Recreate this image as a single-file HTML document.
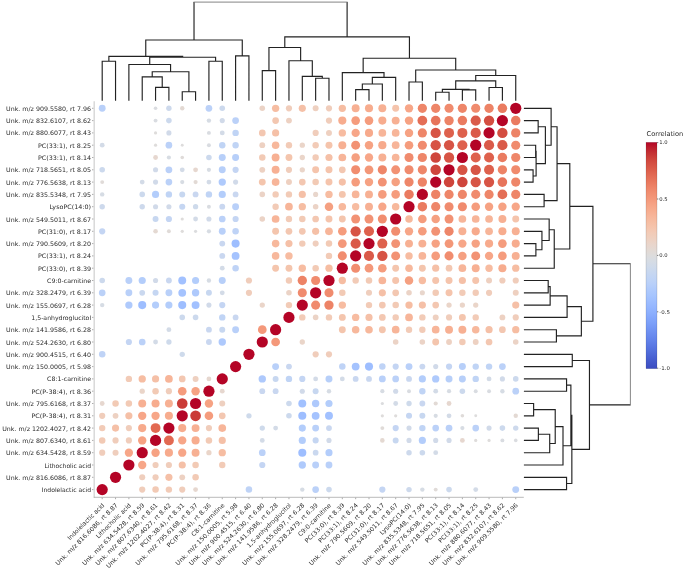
<!DOCTYPE html>
<html><head><meta charset="utf-8"><title>Correlation clustergram</title>
<style>html,body{margin:0;padding:0;background:#fff}svg{display:block}text{font-family:"DejaVu Sans","Liberation Sans",sans-serif;fill:#2a2a2a}</style></head><body>
<svg width="685" height="570" viewBox="0 0 685 570">
<rect width="685" height="570" fill="#fff"/>
<path stroke="#d6d6d6" stroke-width="1.4" fill="none" d="M94.2 101.2V497.7"/><path stroke="#a8a8a8" stroke-width="0.8" fill="none" d="M93.8 497.3H523.8"/>
<path stroke="#888" stroke-width="0.7" fill="none" d="M92.0 108.30H93.4M102.20 497.7V499.2M92.0 120.60H93.4M115.54 497.7V499.2M92.0 132.90H93.4M128.88 497.7V499.2M92.0 145.20H93.4M142.22 497.7V499.2M92.0 157.50H93.4M155.56 497.7V499.2M92.0 169.80H93.4M168.90 497.7V499.2M92.0 182.10H93.4M182.24 497.7V499.2M92.0 194.40H93.4M195.58 497.7V499.2M92.0 206.70H93.4M208.92 497.7V499.2M92.0 219.00H93.4M222.26 497.7V499.2M92.0 231.30H93.4M235.60 497.7V499.2M92.0 243.60H93.4M248.94 497.7V499.2M92.0 255.90H93.4M262.28 497.7V499.2M92.0 268.20H93.4M275.62 497.7V499.2M92.0 280.50H93.4M288.96 497.7V499.2M92.0 292.80H93.4M302.30 497.7V499.2M92.0 305.10H93.4M315.64 497.7V499.2M92.0 317.40H93.4M328.98 497.7V499.2M92.0 329.70H93.4M342.32 497.7V499.2M92.0 342.00H93.4M355.66 497.7V499.2M92.0 354.30H93.4M369.00 497.7V499.2M92.0 366.60H93.4M382.34 497.7V499.2M92.0 378.90H93.4M395.68 497.7V499.2M92.0 391.20H93.4M409.02 497.7V499.2M92.0 403.50H93.4M422.36 497.7V499.2M92.0 415.80H93.4M435.70 497.7V499.2M92.0 428.10H93.4M449.04 497.7V499.2M92.0 440.40H93.4M462.38 497.7V499.2M92.0 452.70H93.4M475.72 497.7V499.2M92.0 465.00H93.4M489.06 497.7V499.2M92.0 477.30H93.4M502.40 497.7V499.2M92.0 489.60H93.4M515.74 497.7V499.2"/>
<g>
<circle cx="102.20" cy="108.30" r="3.44" fill="#b9d0f9"/>
<circle cx="155.56" cy="108.30" r="1.81" fill="#dadce0"/>
<circle cx="168.90" cy="108.30" r="2.72" fill="#cdd9ec"/>
<circle cx="182.24" cy="108.30" r="2.21" fill="#e3d9d3"/>
<circle cx="208.92" cy="108.30" r="3.35" fill="#bbd1f8"/>
<circle cx="222.26" cy="108.30" r="2.79" fill="#ccd9ed"/>
<circle cx="262.28" cy="108.30" r="2.79" fill="#ebd3c6"/>
<circle cx="275.62" cy="108.30" r="3.66" fill="#f6bda2"/>
<circle cx="288.96" cy="108.30" r="3.09" fill="#f0cdbb"/>
<circle cx="302.30" cy="108.30" r="3.58" fill="#f5c0a7"/>
<circle cx="315.64" cy="108.30" r="2.98" fill="#eed0c0"/>
<circle cx="328.98" cy="108.30" r="3.09" fill="#f0cdbb"/>
<circle cx="342.32" cy="108.30" r="3.66" fill="#f6bda2"/>
<circle cx="355.66" cy="108.30" r="3.97" fill="#f7b093"/>
<circle cx="369.00" cy="108.30" r="4.04" fill="#f7ac8e"/>
<circle cx="382.34" cy="108.30" r="3.97" fill="#f7b093"/>
<circle cx="395.68" cy="108.30" r="3.49" fill="#f5c4ac"/>
<circle cx="409.02" cy="108.30" r="4.15" fill="#f7a688"/>
<circle cx="422.36" cy="108.30" r="4.61" fill="#ee8669"/>
<circle cx="435.70" cy="108.30" r="4.61" fill="#ee8669"/>
<circle cx="449.04" cy="108.30" r="4.55" fill="#f08b6e"/>
<circle cx="462.38" cy="108.30" r="4.61" fill="#ee8669"/>
<circle cx="475.72" cy="108.30" r="4.55" fill="#f08b6e"/>
<circle cx="489.06" cy="108.30" r="4.67" fill="#ed8366"/>
<circle cx="502.40" cy="108.30" r="4.75" fill="#ea7b60"/>
<circle cx="515.74" cy="108.30" r="5.60" fill="#b40426"/>
<circle cx="155.56" cy="120.60" r="1.97" fill="#d9dce1"/>
<circle cx="168.90" cy="120.60" r="2.79" fill="#ccd9ed"/>
<circle cx="208.92" cy="120.60" r="2.21" fill="#d6dce4"/>
<circle cx="222.26" cy="120.60" r="2.57" fill="#d1dae9"/>
<circle cx="235.60" cy="120.60" r="3.35" fill="#bbd1f8"/>
<circle cx="275.62" cy="120.60" r="3.35" fill="#f3c7b1"/>
<circle cx="288.96" cy="120.60" r="2.92" fill="#edd1c2"/>
<circle cx="328.98" cy="120.60" r="3.09" fill="#f0cdbb"/>
<circle cx="342.32" cy="120.60" r="4.04" fill="#f7ac8e"/>
<circle cx="355.66" cy="120.60" r="4.31" fill="#f59c7d"/>
<circle cx="369.00" cy="120.60" r="4.31" fill="#f59c7d"/>
<circle cx="382.34" cy="120.60" r="4.04" fill="#f7ac8e"/>
<circle cx="395.68" cy="120.60" r="3.97" fill="#f7b093"/>
<circle cx="409.02" cy="120.60" r="4.21" fill="#f6a283"/>
<circle cx="422.36" cy="120.60" r="4.89" fill="#e46e56"/>
<circle cx="435.70" cy="120.60" r="4.83" fill="#e7745b"/>
<circle cx="449.04" cy="120.60" r="4.67" fill="#ed8366"/>
<circle cx="462.38" cy="120.60" r="4.75" fill="#ea7b60"/>
<circle cx="475.72" cy="120.60" r="5.09" fill="#da5a49"/>
<circle cx="489.06" cy="120.60" r="5.19" fill="#d44e41"/>
<circle cx="502.40" cy="120.60" r="5.60" fill="#b40426"/>
<circle cx="515.74" cy="120.60" r="4.75" fill="#ea7b60"/>
<circle cx="155.56" cy="132.90" r="1.60" fill="#dedcdb"/>
<circle cx="168.90" cy="132.90" r="2.57" fill="#d1dae9"/>
<circle cx="208.92" cy="132.90" r="1.97" fill="#d9dce1"/>
<circle cx="222.26" cy="132.90" r="2.41" fill="#d3dbe7"/>
<circle cx="235.60" cy="132.90" r="3.20" fill="#c0d4f5"/>
<circle cx="262.28" cy="132.90" r="3.35" fill="#f3c7b1"/>
<circle cx="275.62" cy="132.90" r="3.58" fill="#f5c0a7"/>
<circle cx="315.64" cy="132.90" r="3.09" fill="#f0cdbb"/>
<circle cx="328.98" cy="132.90" r="2.98" fill="#eed0c0"/>
<circle cx="342.32" cy="132.90" r="3.70" fill="#f7bca1"/>
<circle cx="355.66" cy="132.90" r="4.15" fill="#f7a688"/>
<circle cx="369.00" cy="132.90" r="4.08" fill="#f7aa8c"/>
<circle cx="382.34" cy="132.90" r="3.86" fill="#f7b599"/>
<circle cx="395.68" cy="132.90" r="3.86" fill="#f7b599"/>
<circle cx="409.02" cy="132.90" r="4.21" fill="#f6a283"/>
<circle cx="422.36" cy="132.90" r="4.61" fill="#ee8669"/>
<circle cx="435.70" cy="132.90" r="5.14" fill="#d75445"/>
<circle cx="449.04" cy="132.90" r="5.02" fill="#de614d"/>
<circle cx="462.38" cy="132.90" r="5.02" fill="#de614d"/>
<circle cx="475.72" cy="132.90" r="5.09" fill="#da5a49"/>
<circle cx="489.06" cy="132.90" r="5.60" fill="#b40426"/>
<circle cx="502.40" cy="132.90" r="5.19" fill="#d44e41"/>
<circle cx="515.74" cy="132.90" r="4.67" fill="#ed8366"/>
<circle cx="102.20" cy="145.20" r="2.41" fill="#d3dbe7"/>
<circle cx="155.56" cy="145.20" r="1.60" fill="#dedcdb"/>
<circle cx="168.90" cy="145.20" r="3.35" fill="#bbd1f8"/>
<circle cx="182.24" cy="145.20" r="1.45" fill="#dddcdc"/>
<circle cx="208.92" cy="145.20" r="1.97" fill="#d9dce1"/>
<circle cx="222.26" cy="145.20" r="3.20" fill="#c0d4f5"/>
<circle cx="235.60" cy="145.20" r="3.20" fill="#c0d4f5"/>
<circle cx="262.28" cy="145.20" r="2.92" fill="#edd1c2"/>
<circle cx="275.62" cy="145.20" r="3.78" fill="#f7b89c"/>
<circle cx="288.96" cy="145.20" r="3.20" fill="#f2cbb7"/>
<circle cx="302.30" cy="145.20" r="2.65" fill="#ead5c9"/>
<circle cx="315.64" cy="145.20" r="3.20" fill="#f2cbb7"/>
<circle cx="328.98" cy="145.20" r="3.49" fill="#f5c4ac"/>
<circle cx="342.32" cy="145.20" r="3.97" fill="#f7b093"/>
<circle cx="355.66" cy="145.20" r="4.47" fill="#f29274"/>
<circle cx="369.00" cy="145.20" r="4.21" fill="#f6a283"/>
<circle cx="382.34" cy="145.20" r="4.08" fill="#f7aa8c"/>
<circle cx="395.68" cy="145.20" r="3.86" fill="#f7b599"/>
<circle cx="409.02" cy="145.20" r="4.31" fill="#f59c7d"/>
<circle cx="422.36" cy="145.20" r="4.55" fill="#f08b6e"/>
<circle cx="435.70" cy="145.20" r="5.14" fill="#d75445"/>
<circle cx="449.04" cy="145.20" r="5.14" fill="#d75445"/>
<circle cx="462.38" cy="145.20" r="5.02" fill="#de614d"/>
<circle cx="475.72" cy="145.20" r="5.60" fill="#b40426"/>
<circle cx="489.06" cy="145.20" r="5.09" fill="#da5a49"/>
<circle cx="502.40" cy="145.20" r="5.09" fill="#da5a49"/>
<circle cx="515.74" cy="145.20" r="4.55" fill="#f08b6e"/>
<circle cx="155.56" cy="157.50" r="2.41" fill="#e6d7cf"/>
<circle cx="168.90" cy="157.50" r="2.10" fill="#d7dce3"/>
<circle cx="182.24" cy="157.50" r="1.81" fill="#dfdbd9"/>
<circle cx="208.92" cy="157.50" r="2.79" fill="#ccd9ed"/>
<circle cx="222.26" cy="157.50" r="3.49" fill="#b7cff9"/>
<circle cx="235.60" cy="157.50" r="3.49" fill="#b7cff9"/>
<circle cx="262.28" cy="157.50" r="3.25" fill="#f2cab5"/>
<circle cx="275.62" cy="157.50" r="3.97" fill="#f7b093"/>
<circle cx="288.96" cy="157.50" r="3.44" fill="#f4c5ad"/>
<circle cx="302.30" cy="157.50" r="2.65" fill="#ead5c9"/>
<circle cx="315.64" cy="157.50" r="3.20" fill="#f2cbb7"/>
<circle cx="328.98" cy="157.50" r="3.58" fill="#f5c0a7"/>
<circle cx="342.32" cy="157.50" r="3.86" fill="#f7b599"/>
<circle cx="355.66" cy="157.50" r="4.25" fill="#f5a081"/>
<circle cx="369.00" cy="157.50" r="4.15" fill="#f7a688"/>
<circle cx="382.34" cy="157.50" r="3.97" fill="#f7b093"/>
<circle cx="395.68" cy="157.50" r="3.86" fill="#f7b599"/>
<circle cx="409.02" cy="157.50" r="4.55" fill="#f08b6e"/>
<circle cx="422.36" cy="157.50" r="4.61" fill="#ee8669"/>
<circle cx="435.70" cy="157.50" r="5.26" fill="#cf453c"/>
<circle cx="449.04" cy="157.50" r="5.14" fill="#d75445"/>
<circle cx="462.38" cy="157.50" r="5.60" fill="#b40426"/>
<circle cx="475.72" cy="157.50" r="5.02" fill="#de614d"/>
<circle cx="489.06" cy="157.50" r="5.02" fill="#de614d"/>
<circle cx="502.40" cy="157.50" r="4.75" fill="#ea7b60"/>
<circle cx="515.74" cy="157.50" r="4.61" fill="#ee8669"/>
<circle cx="102.20" cy="169.80" r="2.79" fill="#ccd9ed"/>
<circle cx="155.56" cy="169.80" r="2.57" fill="#d1dae9"/>
<circle cx="168.90" cy="169.80" r="3.40" fill="#bad0f8"/>
<circle cx="182.24" cy="169.80" r="2.41" fill="#d3dbe7"/>
<circle cx="195.58" cy="169.80" r="2.41" fill="#e6d7cf"/>
<circle cx="208.92" cy="169.80" r="2.10" fill="#d7dce3"/>
<circle cx="222.26" cy="169.80" r="3.49" fill="#b7cff9"/>
<circle cx="235.60" cy="169.80" r="3.09" fill="#c4d5f3"/>
<circle cx="262.28" cy="169.80" r="2.92" fill="#edd1c2"/>
<circle cx="275.62" cy="169.80" r="3.97" fill="#f7b093"/>
<circle cx="288.96" cy="169.80" r="3.09" fill="#f0cdbb"/>
<circle cx="302.30" cy="169.80" r="2.65" fill="#ead5c9"/>
<circle cx="315.64" cy="169.80" r="3.49" fill="#f5c4ac"/>
<circle cx="328.98" cy="169.80" r="3.49" fill="#f5c4ac"/>
<circle cx="342.32" cy="169.80" r="3.35" fill="#f3c7b1"/>
<circle cx="355.66" cy="169.80" r="4.53" fill="#f18d6f"/>
<circle cx="369.00" cy="169.80" r="4.40" fill="#f39778"/>
<circle cx="382.34" cy="169.80" r="4.61" fill="#ee8669"/>
<circle cx="395.68" cy="169.80" r="4.47" fill="#f29274"/>
<circle cx="409.02" cy="169.80" r="4.55" fill="#f08b6e"/>
<circle cx="422.36" cy="169.80" r="4.61" fill="#ee8669"/>
<circle cx="435.70" cy="169.80" r="5.26" fill="#cf453c"/>
<circle cx="449.04" cy="169.80" r="5.60" fill="#b40426"/>
<circle cx="462.38" cy="169.80" r="5.14" fill="#d75445"/>
<circle cx="475.72" cy="169.80" r="5.14" fill="#d75445"/>
<circle cx="489.06" cy="169.80" r="5.02" fill="#de614d"/>
<circle cx="502.40" cy="169.80" r="4.67" fill="#ed8366"/>
<circle cx="515.74" cy="169.80" r="4.55" fill="#f08b6e"/>
<circle cx="102.20" cy="182.10" r="1.97" fill="#e0dbd8"/>
<circle cx="142.22" cy="182.10" r="2.41" fill="#d3dbe7"/>
<circle cx="155.56" cy="182.10" r="2.57" fill="#d1dae9"/>
<circle cx="168.90" cy="182.10" r="3.35" fill="#bbd1f8"/>
<circle cx="182.24" cy="182.10" r="2.10" fill="#d7dce3"/>
<circle cx="195.58" cy="182.10" r="2.10" fill="#e2dad5"/>
<circle cx="208.92" cy="182.10" r="2.41" fill="#d3dbe7"/>
<circle cx="222.26" cy="182.10" r="3.66" fill="#afcafc"/>
<circle cx="235.60" cy="182.10" r="2.57" fill="#d1dae9"/>
<circle cx="262.28" cy="182.10" r="3.44" fill="#f4c5ad"/>
<circle cx="275.62" cy="182.10" r="3.86" fill="#f7b599"/>
<circle cx="288.96" cy="182.10" r="2.98" fill="#eed0c0"/>
<circle cx="302.30" cy="182.10" r="3.35" fill="#f3c7b1"/>
<circle cx="315.64" cy="182.10" r="3.25" fill="#f2cab5"/>
<circle cx="328.98" cy="182.10" r="3.49" fill="#f5c4ac"/>
<circle cx="342.32" cy="182.10" r="3.58" fill="#f5c0a7"/>
<circle cx="355.66" cy="182.10" r="4.31" fill="#f59c7d"/>
<circle cx="369.00" cy="182.10" r="4.21" fill="#f6a283"/>
<circle cx="382.34" cy="182.10" r="4.47" fill="#f29274"/>
<circle cx="395.68" cy="182.10" r="4.25" fill="#f5a081"/>
<circle cx="409.02" cy="182.10" r="4.61" fill="#ee8669"/>
<circle cx="422.36" cy="182.10" r="4.67" fill="#ed8366"/>
<circle cx="435.70" cy="182.10" r="5.60" fill="#b40426"/>
<circle cx="449.04" cy="182.10" r="5.26" fill="#cf453c"/>
<circle cx="462.38" cy="182.10" r="5.26" fill="#cf453c"/>
<circle cx="475.72" cy="182.10" r="5.14" fill="#d75445"/>
<circle cx="489.06" cy="182.10" r="5.14" fill="#d75445"/>
<circle cx="502.40" cy="182.10" r="4.83" fill="#e7745b"/>
<circle cx="515.74" cy="182.10" r="4.61" fill="#ee8669"/>
<circle cx="102.20" cy="194.40" r="2.21" fill="#d6dce4"/>
<circle cx="142.22" cy="194.40" r="2.79" fill="#ccd9ed"/>
<circle cx="155.56" cy="194.40" r="3.58" fill="#b3cdfb"/>
<circle cx="168.90" cy="194.40" r="3.20" fill="#c0d4f5"/>
<circle cx="182.24" cy="194.40" r="2.98" fill="#c7d7f0"/>
<circle cx="195.58" cy="194.40" r="2.92" fill="#c9d7f0"/>
<circle cx="208.92" cy="194.40" r="3.20" fill="#c0d4f5"/>
<circle cx="222.26" cy="194.40" r="3.58" fill="#b3cdfb"/>
<circle cx="235.60" cy="194.40" r="2.92" fill="#c9d7f0"/>
<circle cx="262.28" cy="194.40" r="2.79" fill="#ebd3c6"/>
<circle cx="275.62" cy="194.40" r="3.20" fill="#f2cbb7"/>
<circle cx="288.96" cy="194.40" r="3.20" fill="#f2cbb7"/>
<circle cx="302.30" cy="194.40" r="3.58" fill="#f5c0a7"/>
<circle cx="315.64" cy="194.40" r="2.57" fill="#e8d6cc"/>
<circle cx="328.98" cy="194.40" r="3.70" fill="#f7bca1"/>
<circle cx="342.32" cy="194.40" r="3.44" fill="#f4c5ad"/>
<circle cx="355.66" cy="194.40" r="3.86" fill="#f7b599"/>
<circle cx="369.00" cy="194.40" r="3.97" fill="#f7b093"/>
<circle cx="382.34" cy="194.40" r="4.31" fill="#f59c7d"/>
<circle cx="395.68" cy="194.40" r="4.31" fill="#f59c7d"/>
<circle cx="409.02" cy="194.40" r="4.75" fill="#ea7b60"/>
<circle cx="422.36" cy="194.40" r="5.60" fill="#b40426"/>
<circle cx="435.70" cy="194.40" r="4.67" fill="#ed8366"/>
<circle cx="449.04" cy="194.40" r="4.61" fill="#ee8669"/>
<circle cx="462.38" cy="194.40" r="4.61" fill="#ee8669"/>
<circle cx="475.72" cy="194.40" r="4.55" fill="#f08b6e"/>
<circle cx="489.06" cy="194.40" r="4.61" fill="#ee8669"/>
<circle cx="502.40" cy="194.40" r="4.89" fill="#e46e56"/>
<circle cx="515.74" cy="194.40" r="4.61" fill="#ee8669"/>
<circle cx="102.20" cy="206.70" r="2.72" fill="#cdd9ec"/>
<circle cx="142.22" cy="206.70" r="2.72" fill="#cdd9ec"/>
<circle cx="155.56" cy="206.70" r="2.57" fill="#d1dae9"/>
<circle cx="168.90" cy="206.70" r="2.57" fill="#d1dae9"/>
<circle cx="182.24" cy="206.70" r="3.04" fill="#c5d6f2"/>
<circle cx="195.58" cy="206.70" r="2.65" fill="#cedaeb"/>
<circle cx="208.92" cy="206.70" r="1.97" fill="#d9dce1"/>
<circle cx="222.26" cy="206.70" r="2.92" fill="#c9d7f0"/>
<circle cx="235.60" cy="206.70" r="3.44" fill="#b9d0f9"/>
<circle cx="275.62" cy="206.70" r="3.20" fill="#f2cbb7"/>
<circle cx="288.96" cy="206.70" r="3.86" fill="#f7b599"/>
<circle cx="302.30" cy="206.70" r="3.66" fill="#f6bda2"/>
<circle cx="315.64" cy="206.70" r="2.79" fill="#ebd3c6"/>
<circle cx="328.98" cy="206.70" r="4.25" fill="#f5a081"/>
<circle cx="342.32" cy="206.70" r="3.78" fill="#f7b89c"/>
<circle cx="355.66" cy="206.70" r="3.70" fill="#f7bca1"/>
<circle cx="369.00" cy="206.70" r="3.97" fill="#f7b093"/>
<circle cx="382.34" cy="206.70" r="4.15" fill="#f7a688"/>
<circle cx="395.68" cy="206.70" r="3.78" fill="#f7b89c"/>
<circle cx="409.02" cy="206.70" r="5.60" fill="#b40426"/>
<circle cx="422.36" cy="206.70" r="4.75" fill="#ea7b60"/>
<circle cx="435.70" cy="206.70" r="4.61" fill="#ee8669"/>
<circle cx="449.04" cy="206.70" r="4.55" fill="#f08b6e"/>
<circle cx="462.38" cy="206.70" r="4.55" fill="#f08b6e"/>
<circle cx="475.72" cy="206.70" r="4.31" fill="#f59c7d"/>
<circle cx="489.06" cy="206.70" r="4.21" fill="#f6a283"/>
<circle cx="502.40" cy="206.70" r="4.21" fill="#f6a283"/>
<circle cx="515.74" cy="206.70" r="4.15" fill="#f7a688"/>
<circle cx="155.56" cy="219.00" r="2.98" fill="#c7d7f0"/>
<circle cx="168.90" cy="219.00" r="3.09" fill="#c4d5f3"/>
<circle cx="182.24" cy="219.00" r="1.60" fill="#dedcdb"/>
<circle cx="195.58" cy="219.00" r="2.41" fill="#d3dbe7"/>
<circle cx="208.92" cy="219.00" r="2.57" fill="#d1dae9"/>
<circle cx="222.26" cy="219.00" r="3.35" fill="#bbd1f8"/>
<circle cx="235.60" cy="219.00" r="3.09" fill="#c4d5f3"/>
<circle cx="262.28" cy="219.00" r="2.79" fill="#ebd3c6"/>
<circle cx="275.62" cy="219.00" r="3.86" fill="#f7b599"/>
<circle cx="288.96" cy="219.00" r="3.20" fill="#f2cbb7"/>
<circle cx="302.30" cy="219.00" r="3.25" fill="#f2cab5"/>
<circle cx="315.64" cy="219.00" r="3.35" fill="#f3c7b1"/>
<circle cx="328.98" cy="219.00" r="3.49" fill="#f5c4ac"/>
<circle cx="342.32" cy="219.00" r="3.44" fill="#f4c5ad"/>
<circle cx="355.66" cy="219.00" r="4.47" fill="#f29274"/>
<circle cx="369.00" cy="219.00" r="4.47" fill="#f29274"/>
<circle cx="382.34" cy="219.00" r="4.53" fill="#f18d6f"/>
<circle cx="395.68" cy="219.00" r="5.60" fill="#b40426"/>
<circle cx="409.02" cy="219.00" r="3.78" fill="#f7b89c"/>
<circle cx="422.36" cy="219.00" r="4.31" fill="#f59c7d"/>
<circle cx="435.70" cy="219.00" r="4.25" fill="#f5a081"/>
<circle cx="449.04" cy="219.00" r="4.47" fill="#f29274"/>
<circle cx="462.38" cy="219.00" r="3.86" fill="#f7b599"/>
<circle cx="475.72" cy="219.00" r="3.86" fill="#f7b599"/>
<circle cx="489.06" cy="219.00" r="3.86" fill="#f7b599"/>
<circle cx="502.40" cy="219.00" r="3.97" fill="#f7b093"/>
<circle cx="515.74" cy="219.00" r="3.49" fill="#f5c4ac"/>
<circle cx="102.20" cy="231.30" r="3.09" fill="#c4d5f3"/>
<circle cx="155.56" cy="231.30" r="2.31" fill="#e4d9d2"/>
<circle cx="168.90" cy="231.30" r="1.97" fill="#e0dbd8"/>
<circle cx="182.24" cy="231.30" r="1.60" fill="#dedcdb"/>
<circle cx="195.58" cy="231.30" r="1.60" fill="#dbdcde"/>
<circle cx="208.92" cy="231.30" r="2.10" fill="#d7dce3"/>
<circle cx="222.26" cy="231.30" r="3.44" fill="#b9d0f9"/>
<circle cx="235.60" cy="231.30" r="3.25" fill="#bfd3f6"/>
<circle cx="275.62" cy="231.30" r="3.44" fill="#f4c5ad"/>
<circle cx="288.96" cy="231.30" r="3.35" fill="#f3c7b1"/>
<circle cx="302.30" cy="231.30" r="3.35" fill="#f3c7b1"/>
<circle cx="315.64" cy="231.30" r="3.58" fill="#f5c0a7"/>
<circle cx="328.98" cy="231.30" r="3.86" fill="#f7b599"/>
<circle cx="342.32" cy="231.30" r="4.31" fill="#f59c7d"/>
<circle cx="355.66" cy="231.30" r="5.14" fill="#d75445"/>
<circle cx="369.00" cy="231.30" r="5.02" fill="#de614d"/>
<circle cx="382.34" cy="231.30" r="5.60" fill="#b40426"/>
<circle cx="395.68" cy="231.30" r="4.53" fill="#f18d6f"/>
<circle cx="409.02" cy="231.30" r="4.15" fill="#f7a688"/>
<circle cx="422.36" cy="231.30" r="4.31" fill="#f59c7d"/>
<circle cx="435.70" cy="231.30" r="4.47" fill="#f29274"/>
<circle cx="449.04" cy="231.30" r="4.61" fill="#ee8669"/>
<circle cx="462.38" cy="231.30" r="3.97" fill="#f7b093"/>
<circle cx="475.72" cy="231.30" r="4.08" fill="#f7aa8c"/>
<circle cx="489.06" cy="231.30" r="3.86" fill="#f7b599"/>
<circle cx="502.40" cy="231.30" r="4.04" fill="#f7ac8e"/>
<circle cx="515.74" cy="231.30" r="3.97" fill="#f7b093"/>
<circle cx="222.26" cy="243.60" r="2.92" fill="#c9d7f0"/>
<circle cx="235.60" cy="243.60" r="4.04" fill="#9ebeff"/>
<circle cx="275.62" cy="243.60" r="3.78" fill="#f7b89c"/>
<circle cx="288.96" cy="243.60" r="3.58" fill="#f5c0a7"/>
<circle cx="302.30" cy="243.60" r="3.20" fill="#f2cbb7"/>
<circle cx="315.64" cy="243.60" r="3.04" fill="#efcebd"/>
<circle cx="328.98" cy="243.60" r="3.25" fill="#f2cab5"/>
<circle cx="342.32" cy="243.60" r="4.37" fill="#f4987a"/>
<circle cx="355.66" cy="243.60" r="5.09" fill="#da5a49"/>
<circle cx="369.00" cy="243.60" r="5.60" fill="#b40426"/>
<circle cx="382.34" cy="243.60" r="5.02" fill="#de614d"/>
<circle cx="395.68" cy="243.60" r="4.47" fill="#f29274"/>
<circle cx="409.02" cy="243.60" r="3.97" fill="#f7b093"/>
<circle cx="422.36" cy="243.60" r="3.97" fill="#f7b093"/>
<circle cx="435.70" cy="243.60" r="4.21" fill="#f6a283"/>
<circle cx="449.04" cy="243.60" r="4.40" fill="#f39778"/>
<circle cx="462.38" cy="243.60" r="4.15" fill="#f7a688"/>
<circle cx="475.72" cy="243.60" r="4.21" fill="#f6a283"/>
<circle cx="489.06" cy="243.60" r="4.08" fill="#f7aa8c"/>
<circle cx="502.40" cy="243.60" r="4.31" fill="#f59c7d"/>
<circle cx="515.74" cy="243.60" r="4.04" fill="#f7ac8e"/>
<circle cx="222.26" cy="255.90" r="2.92" fill="#c9d7f0"/>
<circle cx="235.60" cy="255.90" r="3.90" fill="#a5c3fe"/>
<circle cx="275.62" cy="255.90" r="3.78" fill="#f7b89c"/>
<circle cx="288.96" cy="255.90" r="3.70" fill="#f7bca1"/>
<circle cx="328.98" cy="255.90" r="3.20" fill="#f2cbb7"/>
<circle cx="342.32" cy="255.90" r="4.53" fill="#f18d6f"/>
<circle cx="355.66" cy="255.90" r="5.60" fill="#b40426"/>
<circle cx="369.00" cy="255.90" r="5.09" fill="#da5a49"/>
<circle cx="382.34" cy="255.90" r="5.14" fill="#d75445"/>
<circle cx="395.68" cy="255.90" r="4.47" fill="#f29274"/>
<circle cx="409.02" cy="255.90" r="3.70" fill="#f7bca1"/>
<circle cx="422.36" cy="255.90" r="3.86" fill="#f7b599"/>
<circle cx="435.70" cy="255.90" r="4.31" fill="#f59c7d"/>
<circle cx="449.04" cy="255.90" r="4.53" fill="#f18d6f"/>
<circle cx="462.38" cy="255.90" r="4.25" fill="#f5a081"/>
<circle cx="475.72" cy="255.90" r="4.47" fill="#f29274"/>
<circle cx="489.06" cy="255.90" r="4.15" fill="#f7a688"/>
<circle cx="502.40" cy="255.90" r="4.31" fill="#f59c7d"/>
<circle cx="515.74" cy="255.90" r="3.97" fill="#f7b093"/>
<circle cx="222.26" cy="268.20" r="2.41" fill="#d3dbe7"/>
<circle cx="235.60" cy="268.20" r="3.25" fill="#bfd3f6"/>
<circle cx="275.62" cy="268.20" r="3.44" fill="#f4c5ad"/>
<circle cx="288.96" cy="268.20" r="3.44" fill="#f4c5ad"/>
<circle cx="302.30" cy="268.20" r="3.70" fill="#f7bca1"/>
<circle cx="315.64" cy="268.20" r="3.25" fill="#f2cab5"/>
<circle cx="328.98" cy="268.20" r="3.66" fill="#f6bda2"/>
<circle cx="342.32" cy="268.20" r="5.60" fill="#b40426"/>
<circle cx="355.66" cy="268.20" r="4.53" fill="#f18d6f"/>
<circle cx="369.00" cy="268.20" r="4.37" fill="#f4987a"/>
<circle cx="382.34" cy="268.20" r="4.31" fill="#f59c7d"/>
<circle cx="395.68" cy="268.20" r="3.44" fill="#f4c5ad"/>
<circle cx="409.02" cy="268.20" r="3.78" fill="#f7b89c"/>
<circle cx="422.36" cy="268.20" r="3.44" fill="#f4c5ad"/>
<circle cx="435.70" cy="268.20" r="3.58" fill="#f5c0a7"/>
<circle cx="449.04" cy="268.20" r="3.35" fill="#f3c7b1"/>
<circle cx="462.38" cy="268.20" r="3.86" fill="#f7b599"/>
<circle cx="475.72" cy="268.20" r="3.97" fill="#f7b093"/>
<circle cx="489.06" cy="268.20" r="3.70" fill="#f7bca1"/>
<circle cx="502.40" cy="268.20" r="4.04" fill="#f7ac8e"/>
<circle cx="515.74" cy="268.20" r="3.66" fill="#f6bda2"/>
<circle cx="102.20" cy="280.50" r="2.79" fill="#ccd9ed"/>
<circle cx="128.88" cy="280.50" r="3.44" fill="#b9d0f9"/>
<circle cx="142.22" cy="280.50" r="3.58" fill="#b3cdfb"/>
<circle cx="155.56" cy="280.50" r="2.57" fill="#d1dae9"/>
<circle cx="168.90" cy="280.50" r="2.92" fill="#c9d7f0"/>
<circle cx="182.24" cy="280.50" r="3.97" fill="#a2c1ff"/>
<circle cx="195.58" cy="280.50" r="3.58" fill="#b3cdfb"/>
<circle cx="208.92" cy="280.50" r="2.21" fill="#d6dce4"/>
<circle cx="222.26" cy="280.50" r="3.49" fill="#b7cff9"/>
<circle cx="248.94" cy="280.50" r="3.09" fill="#f0cdbb"/>
<circle cx="288.96" cy="280.50" r="3.20" fill="#f2cbb7"/>
<circle cx="302.30" cy="280.50" r="4.67" fill="#ed8366"/>
<circle cx="315.64" cy="280.50" r="4.55" fill="#f08b6e"/>
<circle cx="328.98" cy="280.50" r="5.60" fill="#b40426"/>
<circle cx="342.32" cy="280.50" r="3.66" fill="#f6bda2"/>
<circle cx="355.66" cy="280.50" r="3.20" fill="#f2cbb7"/>
<circle cx="369.00" cy="280.50" r="3.25" fill="#f2cab5"/>
<circle cx="382.34" cy="280.50" r="3.86" fill="#f7b599"/>
<circle cx="395.68" cy="280.50" r="3.49" fill="#f5c4ac"/>
<circle cx="409.02" cy="280.50" r="4.25" fill="#f5a081"/>
<circle cx="422.36" cy="280.50" r="3.70" fill="#f7bca1"/>
<circle cx="435.70" cy="280.50" r="3.49" fill="#f5c4ac"/>
<circle cx="449.04" cy="280.50" r="3.49" fill="#f5c4ac"/>
<circle cx="462.38" cy="280.50" r="3.58" fill="#f5c0a7"/>
<circle cx="475.72" cy="280.50" r="3.49" fill="#f5c4ac"/>
<circle cx="489.06" cy="280.50" r="2.98" fill="#eed0c0"/>
<circle cx="502.40" cy="280.50" r="3.09" fill="#f0cdbb"/>
<circle cx="515.74" cy="280.50" r="3.09" fill="#f0cdbb"/>
<circle cx="102.20" cy="292.80" r="3.35" fill="#bbd1f8"/>
<circle cx="128.88" cy="292.80" r="3.44" fill="#b9d0f9"/>
<circle cx="142.22" cy="292.80" r="2.86" fill="#cad8ef"/>
<circle cx="155.56" cy="292.80" r="3.04" fill="#c5d6f2"/>
<circle cx="168.90" cy="292.80" r="3.44" fill="#b9d0f9"/>
<circle cx="182.24" cy="292.80" r="3.90" fill="#a5c3fe"/>
<circle cx="195.58" cy="292.80" r="3.70" fill="#aec9fc"/>
<circle cx="208.92" cy="292.80" r="2.98" fill="#c7d7f0"/>
<circle cx="222.26" cy="292.80" r="2.41" fill="#d3dbe7"/>
<circle cx="248.94" cy="292.80" r="3.09" fill="#f0cdbb"/>
<circle cx="288.96" cy="292.80" r="2.79" fill="#ebd3c6"/>
<circle cx="302.30" cy="292.80" r="4.55" fill="#f08b6e"/>
<circle cx="315.64" cy="292.80" r="5.60" fill="#b40426"/>
<circle cx="328.98" cy="292.80" r="4.55" fill="#f08b6e"/>
<circle cx="342.32" cy="292.80" r="3.25" fill="#f2cab5"/>
<circle cx="369.00" cy="292.80" r="3.04" fill="#efcebd"/>
<circle cx="382.34" cy="292.80" r="3.58" fill="#f5c0a7"/>
<circle cx="395.68" cy="292.80" r="3.35" fill="#f3c7b1"/>
<circle cx="409.02" cy="292.80" r="2.79" fill="#ebd3c6"/>
<circle cx="422.36" cy="292.80" r="2.57" fill="#e8d6cc"/>
<circle cx="435.70" cy="292.80" r="3.25" fill="#f2cab5"/>
<circle cx="449.04" cy="292.80" r="3.49" fill="#f5c4ac"/>
<circle cx="462.38" cy="292.80" r="3.20" fill="#f2cbb7"/>
<circle cx="475.72" cy="292.80" r="3.20" fill="#f2cbb7"/>
<circle cx="489.06" cy="292.80" r="3.09" fill="#f0cdbb"/>
<circle cx="515.74" cy="292.80" r="2.98" fill="#eed0c0"/>
<circle cx="102.20" cy="305.10" r="2.21" fill="#d6dce4"/>
<circle cx="128.88" cy="305.10" r="3.66" fill="#afcafc"/>
<circle cx="142.22" cy="305.10" r="4.04" fill="#9ebeff"/>
<circle cx="155.56" cy="305.10" r="3.58" fill="#b3cdfb"/>
<circle cx="168.90" cy="305.10" r="3.58" fill="#b3cdfb"/>
<circle cx="182.24" cy="305.10" r="4.04" fill="#9ebeff"/>
<circle cx="195.58" cy="305.10" r="3.97" fill="#a2c1ff"/>
<circle cx="208.92" cy="305.10" r="2.57" fill="#d1dae9"/>
<circle cx="222.26" cy="305.10" r="3.09" fill="#c4d5f3"/>
<circle cx="262.28" cy="305.10" r="2.65" fill="#ead5c9"/>
<circle cx="288.96" cy="305.10" r="3.20" fill="#f2cbb7"/>
<circle cx="302.30" cy="305.10" r="5.60" fill="#b40426"/>
<circle cx="315.64" cy="305.10" r="4.55" fill="#f08b6e"/>
<circle cx="328.98" cy="305.10" r="4.67" fill="#ed8366"/>
<circle cx="342.32" cy="305.10" r="3.70" fill="#f7bca1"/>
<circle cx="369.00" cy="305.10" r="3.20" fill="#f2cbb7"/>
<circle cx="382.34" cy="305.10" r="3.35" fill="#f3c7b1"/>
<circle cx="395.68" cy="305.10" r="3.25" fill="#f2cab5"/>
<circle cx="409.02" cy="305.10" r="3.66" fill="#f6bda2"/>
<circle cx="422.36" cy="305.10" r="3.58" fill="#f5c0a7"/>
<circle cx="435.70" cy="305.10" r="3.35" fill="#f3c7b1"/>
<circle cx="449.04" cy="305.10" r="2.65" fill="#ead5c9"/>
<circle cx="462.38" cy="305.10" r="2.65" fill="#ead5c9"/>
<circle cx="475.72" cy="305.10" r="2.65" fill="#ead5c9"/>
<circle cx="515.74" cy="305.10" r="3.58" fill="#f5c0a7"/>
<circle cx="182.24" cy="317.40" r="2.79" fill="#ccd9ed"/>
<circle cx="195.58" cy="317.40" r="2.79" fill="#ccd9ed"/>
<circle cx="222.26" cy="317.40" r="3.20" fill="#c0d4f5"/>
<circle cx="235.60" cy="317.40" r="2.92" fill="#c9d7f0"/>
<circle cx="288.96" cy="317.40" r="5.60" fill="#b40426"/>
<circle cx="302.30" cy="317.40" r="3.20" fill="#f2cbb7"/>
<circle cx="315.64" cy="317.40" r="2.79" fill="#ebd3c6"/>
<circle cx="328.98" cy="317.40" r="3.20" fill="#f2cbb7"/>
<circle cx="342.32" cy="317.40" r="3.44" fill="#f4c5ad"/>
<circle cx="355.66" cy="317.40" r="3.70" fill="#f7bca1"/>
<circle cx="369.00" cy="317.40" r="3.58" fill="#f5c0a7"/>
<circle cx="382.34" cy="317.40" r="3.35" fill="#f3c7b1"/>
<circle cx="395.68" cy="317.40" r="3.20" fill="#f2cbb7"/>
<circle cx="409.02" cy="317.40" r="3.86" fill="#f7b599"/>
<circle cx="422.36" cy="317.40" r="3.20" fill="#f2cbb7"/>
<circle cx="435.70" cy="317.40" r="2.98" fill="#eed0c0"/>
<circle cx="449.04" cy="317.40" r="3.09" fill="#f0cdbb"/>
<circle cx="462.38" cy="317.40" r="3.44" fill="#f4c5ad"/>
<circle cx="475.72" cy="317.40" r="3.20" fill="#f2cbb7"/>
<circle cx="502.40" cy="317.40" r="2.92" fill="#edd1c2"/>
<circle cx="515.74" cy="317.40" r="3.09" fill="#f0cdbb"/>
<circle cx="168.90" cy="329.70" r="2.41" fill="#d3dbe7"/>
<circle cx="208.92" cy="329.70" r="2.92" fill="#c9d7f0"/>
<circle cx="222.26" cy="329.70" r="2.98" fill="#c7d7f0"/>
<circle cx="235.60" cy="329.70" r="3.44" fill="#b9d0f9"/>
<circle cx="262.28" cy="329.70" r="4.37" fill="#f4987a"/>
<circle cx="275.62" cy="329.70" r="5.60" fill="#b40426"/>
<circle cx="342.32" cy="329.70" r="3.44" fill="#f4c5ad"/>
<circle cx="355.66" cy="329.70" r="3.78" fill="#f7b89c"/>
<circle cx="369.00" cy="329.70" r="3.78" fill="#f7b89c"/>
<circle cx="382.34" cy="329.70" r="3.44" fill="#f4c5ad"/>
<circle cx="395.68" cy="329.70" r="3.86" fill="#f7b599"/>
<circle cx="409.02" cy="329.70" r="3.20" fill="#f2cbb7"/>
<circle cx="422.36" cy="329.70" r="3.20" fill="#f2cbb7"/>
<circle cx="435.70" cy="329.70" r="3.86" fill="#f7b599"/>
<circle cx="449.04" cy="329.70" r="3.97" fill="#f7b093"/>
<circle cx="462.38" cy="329.70" r="3.97" fill="#f7b093"/>
<circle cx="475.72" cy="329.70" r="3.78" fill="#f7b89c"/>
<circle cx="489.06" cy="329.70" r="3.58" fill="#f5c0a7"/>
<circle cx="502.40" cy="329.70" r="3.35" fill="#f3c7b1"/>
<circle cx="515.74" cy="329.70" r="3.66" fill="#f6bda2"/>
<circle cx="128.88" cy="342.00" r="3.09" fill="#c4d5f3"/>
<circle cx="142.22" cy="342.00" r="3.35" fill="#bbd1f8"/>
<circle cx="155.56" cy="342.00" r="2.41" fill="#d3dbe7"/>
<circle cx="168.90" cy="342.00" r="2.65" fill="#cedaeb"/>
<circle cx="208.92" cy="342.00" r="2.92" fill="#c9d7f0"/>
<circle cx="222.26" cy="342.00" r="3.70" fill="#aec9fc"/>
<circle cx="262.28" cy="342.00" r="5.60" fill="#b40426"/>
<circle cx="275.62" cy="342.00" r="4.37" fill="#f4987a"/>
<circle cx="302.30" cy="342.00" r="2.65" fill="#ead5c9"/>
<circle cx="395.68" cy="342.00" r="2.79" fill="#ebd3c6"/>
<circle cx="422.36" cy="342.00" r="2.79" fill="#ebd3c6"/>
<circle cx="435.70" cy="342.00" r="3.44" fill="#f4c5ad"/>
<circle cx="449.04" cy="342.00" r="2.92" fill="#edd1c2"/>
<circle cx="462.38" cy="342.00" r="3.25" fill="#f2cab5"/>
<circle cx="475.72" cy="342.00" r="2.92" fill="#edd1c2"/>
<circle cx="489.06" cy="342.00" r="3.35" fill="#f3c7b1"/>
<circle cx="515.74" cy="342.00" r="2.79" fill="#ebd3c6"/>
<circle cx="102.20" cy="354.30" r="3.25" fill="#bfd3f6"/>
<circle cx="182.24" cy="354.30" r="2.65" fill="#cedaeb"/>
<circle cx="248.94" cy="354.30" r="5.60" fill="#b40426"/>
<circle cx="315.64" cy="354.30" r="3.09" fill="#f0cdbb"/>
<circle cx="328.98" cy="354.30" r="3.09" fill="#f0cdbb"/>
<circle cx="235.60" cy="366.60" r="5.60" fill="#b40426"/>
<circle cx="275.62" cy="366.60" r="3.44" fill="#b9d0f9"/>
<circle cx="288.96" cy="366.60" r="2.92" fill="#c9d7f0"/>
<circle cx="342.32" cy="366.60" r="3.25" fill="#bfd3f6"/>
<circle cx="355.66" cy="366.60" r="3.90" fill="#a5c3fe"/>
<circle cx="369.00" cy="366.60" r="4.04" fill="#9ebeff"/>
<circle cx="382.34" cy="366.60" r="3.25" fill="#bfd3f6"/>
<circle cx="395.68" cy="366.60" r="3.09" fill="#c4d5f3"/>
<circle cx="409.02" cy="366.60" r="3.44" fill="#b9d0f9"/>
<circle cx="422.36" cy="366.60" r="2.92" fill="#c9d7f0"/>
<circle cx="435.70" cy="366.60" r="2.57" fill="#d1dae9"/>
<circle cx="449.04" cy="366.60" r="3.09" fill="#c4d5f3"/>
<circle cx="462.38" cy="366.60" r="3.49" fill="#b7cff9"/>
<circle cx="475.72" cy="366.60" r="3.20" fill="#c0d4f5"/>
<circle cx="489.06" cy="366.60" r="3.20" fill="#c0d4f5"/>
<circle cx="502.40" cy="366.60" r="3.35" fill="#bbd1f8"/>
<circle cx="128.88" cy="378.90" r="3.20" fill="#f2cbb7"/>
<circle cx="142.22" cy="378.90" r="3.66" fill="#f6bda2"/>
<circle cx="155.56" cy="378.90" r="3.58" fill="#f5c0a7"/>
<circle cx="168.90" cy="378.90" r="3.86" fill="#f7b599"/>
<circle cx="182.24" cy="378.90" r="3.35" fill="#f3c7b1"/>
<circle cx="195.58" cy="378.90" r="2.98" fill="#eed0c0"/>
<circle cx="208.92" cy="378.90" r="2.41" fill="#e6d7cf"/>
<circle cx="222.26" cy="378.90" r="5.60" fill="#b40426"/>
<circle cx="262.28" cy="378.90" r="3.70" fill="#aec9fc"/>
<circle cx="275.62" cy="378.90" r="2.98" fill="#c7d7f0"/>
<circle cx="288.96" cy="378.90" r="3.20" fill="#c0d4f5"/>
<circle cx="302.30" cy="378.90" r="3.09" fill="#c4d5f3"/>
<circle cx="315.64" cy="378.90" r="2.41" fill="#d3dbe7"/>
<circle cx="328.98" cy="378.90" r="3.49" fill="#b7cff9"/>
<circle cx="342.32" cy="378.90" r="2.41" fill="#d3dbe7"/>
<circle cx="355.66" cy="378.90" r="2.92" fill="#c9d7f0"/>
<circle cx="369.00" cy="378.90" r="2.92" fill="#c9d7f0"/>
<circle cx="382.34" cy="378.90" r="3.44" fill="#b9d0f9"/>
<circle cx="395.68" cy="378.90" r="3.35" fill="#bbd1f8"/>
<circle cx="409.02" cy="378.90" r="2.92" fill="#c9d7f0"/>
<circle cx="422.36" cy="378.90" r="3.58" fill="#b3cdfb"/>
<circle cx="435.70" cy="378.90" r="3.66" fill="#afcafc"/>
<circle cx="449.04" cy="378.90" r="3.49" fill="#b7cff9"/>
<circle cx="462.38" cy="378.90" r="3.49" fill="#b7cff9"/>
<circle cx="475.72" cy="378.90" r="3.20" fill="#c0d4f5"/>
<circle cx="489.06" cy="378.90" r="2.41" fill="#d3dbe7"/>
<circle cx="502.40" cy="378.90" r="2.57" fill="#d1dae9"/>
<circle cx="515.74" cy="378.90" r="2.79" fill="#ccd9ed"/>
<circle cx="142.22" cy="391.20" r="2.65" fill="#ead5c9"/>
<circle cx="155.56" cy="391.20" r="3.25" fill="#f2cab5"/>
<circle cx="168.90" cy="391.20" r="3.09" fill="#f0cdbb"/>
<circle cx="182.24" cy="391.20" r="4.31" fill="#f59c7d"/>
<circle cx="195.58" cy="391.20" r="4.21" fill="#f6a283"/>
<circle cx="208.92" cy="391.20" r="5.60" fill="#b40426"/>
<circle cx="222.26" cy="391.20" r="2.41" fill="#e6d7cf"/>
<circle cx="262.28" cy="391.20" r="2.92" fill="#c9d7f0"/>
<circle cx="275.62" cy="391.20" r="2.92" fill="#c9d7f0"/>
<circle cx="302.30" cy="391.20" r="2.57" fill="#d1dae9"/>
<circle cx="315.64" cy="391.20" r="2.98" fill="#c7d7f0"/>
<circle cx="328.98" cy="391.20" r="2.21" fill="#d6dce4"/>
<circle cx="382.34" cy="391.20" r="2.10" fill="#d7dce3"/>
<circle cx="395.68" cy="391.20" r="2.57" fill="#d1dae9"/>
<circle cx="409.02" cy="391.20" r="1.97" fill="#d9dce1"/>
<circle cx="422.36" cy="391.20" r="3.20" fill="#c0d4f5"/>
<circle cx="435.70" cy="391.20" r="2.41" fill="#d3dbe7"/>
<circle cx="449.04" cy="391.20" r="2.10" fill="#d7dce3"/>
<circle cx="462.38" cy="391.20" r="2.79" fill="#ccd9ed"/>
<circle cx="475.72" cy="391.20" r="1.97" fill="#d9dce1"/>
<circle cx="489.06" cy="391.20" r="1.97" fill="#d9dce1"/>
<circle cx="502.40" cy="391.20" r="2.21" fill="#d6dce4"/>
<circle cx="515.74" cy="391.20" r="3.35" fill="#bbd1f8"/>
<circle cx="102.20" cy="403.50" r="2.41" fill="#e6d7cf"/>
<circle cx="115.54" cy="403.50" r="3.25" fill="#f2cab5"/>
<circle cx="128.88" cy="403.50" r="3.25" fill="#f2cab5"/>
<circle cx="142.22" cy="403.50" r="3.97" fill="#f7b093"/>
<circle cx="155.56" cy="403.50" r="4.04" fill="#f7ac8e"/>
<circle cx="168.90" cy="403.50" r="3.97" fill="#f7b093"/>
<circle cx="182.24" cy="403.50" r="5.33" fill="#ca3b37"/>
<circle cx="195.58" cy="403.50" r="5.60" fill="#b40426"/>
<circle cx="208.92" cy="403.50" r="4.21" fill="#f6a283"/>
<circle cx="222.26" cy="403.50" r="2.98" fill="#eed0c0"/>
<circle cx="288.96" cy="403.50" r="2.79" fill="#ccd9ed"/>
<circle cx="302.30" cy="403.50" r="3.97" fill="#a2c1ff"/>
<circle cx="315.64" cy="403.50" r="3.70" fill="#aec9fc"/>
<circle cx="328.98" cy="403.50" r="3.58" fill="#b3cdfb"/>
<circle cx="382.34" cy="403.50" r="1.60" fill="#dbdcde"/>
<circle cx="395.68" cy="403.50" r="2.41" fill="#d3dbe7"/>
<circle cx="409.02" cy="403.50" r="2.65" fill="#cedaeb"/>
<circle cx="422.36" cy="403.50" r="2.92" fill="#c9d7f0"/>
<circle cx="435.70" cy="403.50" r="2.10" fill="#e2dad5"/>
<circle cx="449.04" cy="403.50" r="2.41" fill="#e6d7cf"/>
<circle cx="102.20" cy="415.80" r="3.09" fill="#f0cdbb"/>
<circle cx="115.54" cy="415.80" r="2.92" fill="#edd1c2"/>
<circle cx="128.88" cy="415.80" r="3.58" fill="#f5c0a7"/>
<circle cx="142.22" cy="415.80" r="4.15" fill="#f7a688"/>
<circle cx="155.56" cy="415.80" r="4.15" fill="#f7a688"/>
<circle cx="168.90" cy="415.80" r="4.04" fill="#f7ac8e"/>
<circle cx="182.24" cy="415.80" r="5.60" fill="#b40426"/>
<circle cx="195.58" cy="415.80" r="5.33" fill="#ca3b37"/>
<circle cx="208.92" cy="415.80" r="4.31" fill="#f59c7d"/>
<circle cx="222.26" cy="415.80" r="3.35" fill="#f3c7b1"/>
<circle cx="248.94" cy="415.80" r="2.65" fill="#cedaeb"/>
<circle cx="288.96" cy="415.80" r="2.79" fill="#ccd9ed"/>
<circle cx="302.30" cy="415.80" r="4.04" fill="#9ebeff"/>
<circle cx="315.64" cy="415.80" r="3.90" fill="#a5c3fe"/>
<circle cx="328.98" cy="415.80" r="3.97" fill="#a2c1ff"/>
<circle cx="382.34" cy="415.80" r="1.60" fill="#dedcdb"/>
<circle cx="395.68" cy="415.80" r="1.60" fill="#dedcdb"/>
<circle cx="409.02" cy="415.80" r="3.04" fill="#c5d6f2"/>
<circle cx="422.36" cy="415.80" r="2.98" fill="#c7d7f0"/>
<circle cx="435.70" cy="415.80" r="2.10" fill="#d7dce3"/>
<circle cx="449.04" cy="415.80" r="2.41" fill="#d3dbe7"/>
<circle cx="462.38" cy="415.80" r="1.81" fill="#dfdbd9"/>
<circle cx="475.72" cy="415.80" r="1.45" fill="#dddcdc"/>
<circle cx="515.74" cy="415.80" r="2.21" fill="#e3d9d3"/>
<circle cx="102.20" cy="428.10" r="3.20" fill="#f2cbb7"/>
<circle cx="115.54" cy="428.10" r="3.58" fill="#f5c0a7"/>
<circle cx="128.88" cy="428.10" r="3.09" fill="#f0cdbb"/>
<circle cx="142.22" cy="428.10" r="4.08" fill="#f7aa8c"/>
<circle cx="155.56" cy="428.10" r="4.94" fill="#e26952"/>
<circle cx="168.90" cy="428.10" r="5.60" fill="#b40426"/>
<circle cx="182.24" cy="428.10" r="4.04" fill="#f7ac8e"/>
<circle cx="195.58" cy="428.10" r="3.97" fill="#f7b093"/>
<circle cx="208.92" cy="428.10" r="3.09" fill="#f0cdbb"/>
<circle cx="222.26" cy="428.10" r="3.86" fill="#f7b599"/>
<circle cx="262.28" cy="428.10" r="2.65" fill="#cedaeb"/>
<circle cx="275.62" cy="428.10" r="2.41" fill="#d3dbe7"/>
<circle cx="302.30" cy="428.10" r="3.58" fill="#b3cdfb"/>
<circle cx="315.64" cy="428.10" r="3.44" fill="#b9d0f9"/>
<circle cx="328.98" cy="428.10" r="2.92" fill="#c9d7f0"/>
<circle cx="382.34" cy="428.10" r="1.97" fill="#e0dbd8"/>
<circle cx="395.68" cy="428.10" r="3.09" fill="#c4d5f3"/>
<circle cx="409.02" cy="428.10" r="2.57" fill="#d1dae9"/>
<circle cx="422.36" cy="428.10" r="3.20" fill="#c0d4f5"/>
<circle cx="435.70" cy="428.10" r="3.35" fill="#bbd1f8"/>
<circle cx="449.04" cy="428.10" r="3.40" fill="#bad0f8"/>
<circle cx="462.38" cy="428.10" r="2.10" fill="#d7dce3"/>
<circle cx="475.72" cy="428.10" r="3.35" fill="#bbd1f8"/>
<circle cx="489.06" cy="428.10" r="2.57" fill="#d1dae9"/>
<circle cx="502.40" cy="428.10" r="2.79" fill="#ccd9ed"/>
<circle cx="515.74" cy="428.10" r="2.72" fill="#cdd9ec"/>
<circle cx="102.20" cy="440.40" r="3.25" fill="#f2cab5"/>
<circle cx="115.54" cy="440.40" r="3.09" fill="#f0cdbb"/>
<circle cx="128.88" cy="440.40" r="3.09" fill="#f0cdbb"/>
<circle cx="142.22" cy="440.40" r="4.21" fill="#f6a283"/>
<circle cx="155.56" cy="440.40" r="5.60" fill="#b40426"/>
<circle cx="168.90" cy="440.40" r="4.94" fill="#e26952"/>
<circle cx="182.24" cy="440.40" r="4.15" fill="#f7a688"/>
<circle cx="195.58" cy="440.40" r="4.04" fill="#f7ac8e"/>
<circle cx="208.92" cy="440.40" r="3.25" fill="#f2cab5"/>
<circle cx="222.26" cy="440.40" r="3.58" fill="#f5c0a7"/>
<circle cx="262.28" cy="440.40" r="2.41" fill="#d3dbe7"/>
<circle cx="302.30" cy="440.40" r="3.58" fill="#b3cdfb"/>
<circle cx="315.64" cy="440.40" r="3.04" fill="#c5d6f2"/>
<circle cx="328.98" cy="440.40" r="2.57" fill="#d1dae9"/>
<circle cx="382.34" cy="440.40" r="2.31" fill="#e4d9d2"/>
<circle cx="395.68" cy="440.40" r="2.98" fill="#c7d7f0"/>
<circle cx="409.02" cy="440.40" r="2.57" fill="#d1dae9"/>
<circle cx="422.36" cy="440.40" r="3.58" fill="#b3cdfb"/>
<circle cx="435.70" cy="440.40" r="2.57" fill="#d1dae9"/>
<circle cx="449.04" cy="440.40" r="2.57" fill="#d1dae9"/>
<circle cx="462.38" cy="440.40" r="2.41" fill="#e6d7cf"/>
<circle cx="475.72" cy="440.40" r="1.60" fill="#dedcdb"/>
<circle cx="489.06" cy="440.40" r="1.60" fill="#dedcdb"/>
<circle cx="502.40" cy="440.40" r="1.97" fill="#d9dce1"/>
<circle cx="515.74" cy="440.40" r="1.81" fill="#dadce0"/>
<circle cx="102.20" cy="452.70" r="3.09" fill="#f0cdbb"/>
<circle cx="115.54" cy="452.70" r="3.04" fill="#efcebd"/>
<circle cx="128.88" cy="452.70" r="4.15" fill="#f7a688"/>
<circle cx="142.22" cy="452.70" r="5.60" fill="#b40426"/>
<circle cx="155.56" cy="452.70" r="4.21" fill="#f6a283"/>
<circle cx="168.90" cy="452.70" r="4.08" fill="#f7aa8c"/>
<circle cx="182.24" cy="452.70" r="4.15" fill="#f7a688"/>
<circle cx="195.58" cy="452.70" r="3.97" fill="#f7b093"/>
<circle cx="208.92" cy="452.70" r="2.65" fill="#ead5c9"/>
<circle cx="222.26" cy="452.70" r="3.66" fill="#f6bda2"/>
<circle cx="262.28" cy="452.70" r="3.35" fill="#bbd1f8"/>
<circle cx="302.30" cy="452.70" r="4.04" fill="#9ebeff"/>
<circle cx="315.64" cy="452.70" r="2.86" fill="#cad8ef"/>
<circle cx="328.98" cy="452.70" r="3.58" fill="#b3cdfb"/>
<circle cx="409.02" cy="452.70" r="2.72" fill="#cdd9ec"/>
<circle cx="422.36" cy="452.70" r="2.79" fill="#ccd9ed"/>
<circle cx="435.70" cy="452.70" r="2.41" fill="#d3dbe7"/>
<circle cx="128.88" cy="465.00" r="5.60" fill="#b40426"/>
<circle cx="142.22" cy="465.00" r="4.15" fill="#f7a688"/>
<circle cx="155.56" cy="465.00" r="3.09" fill="#f0cdbb"/>
<circle cx="168.90" cy="465.00" r="3.09" fill="#f0cdbb"/>
<circle cx="182.24" cy="465.00" r="3.58" fill="#f5c0a7"/>
<circle cx="195.58" cy="465.00" r="3.25" fill="#f2cab5"/>
<circle cx="222.26" cy="465.00" r="3.20" fill="#f2cbb7"/>
<circle cx="262.28" cy="465.00" r="3.09" fill="#c4d5f3"/>
<circle cx="302.30" cy="465.00" r="3.66" fill="#afcafc"/>
<circle cx="315.64" cy="465.00" r="3.44" fill="#b9d0f9"/>
<circle cx="328.98" cy="465.00" r="3.44" fill="#b9d0f9"/>
<circle cx="115.54" cy="477.30" r="5.60" fill="#b40426"/>
<circle cx="142.22" cy="477.30" r="3.04" fill="#efcebd"/>
<circle cx="155.56" cy="477.30" r="3.09" fill="#f0cdbb"/>
<circle cx="168.90" cy="477.30" r="3.58" fill="#f5c0a7"/>
<circle cx="182.24" cy="477.30" r="2.92" fill="#edd1c2"/>
<circle cx="195.58" cy="477.30" r="3.25" fill="#f2cab5"/>
<circle cx="102.20" cy="489.60" r="5.60" fill="#b40426"/>
<circle cx="142.22" cy="489.60" r="3.09" fill="#f0cdbb"/>
<circle cx="155.56" cy="489.60" r="3.25" fill="#f2cab5"/>
<circle cx="168.90" cy="489.60" r="3.20" fill="#f2cbb7"/>
<circle cx="182.24" cy="489.60" r="3.09" fill="#f0cdbb"/>
<circle cx="195.58" cy="489.60" r="2.41" fill="#e6d7cf"/>
<circle cx="248.94" cy="489.60" r="3.25" fill="#bfd3f6"/>
<circle cx="302.30" cy="489.60" r="2.21" fill="#d6dce4"/>
<circle cx="315.64" cy="489.60" r="3.35" fill="#bbd1f8"/>
<circle cx="328.98" cy="489.60" r="2.79" fill="#ccd9ed"/>
<circle cx="382.34" cy="489.60" r="3.09" fill="#c4d5f3"/>
<circle cx="409.02" cy="489.60" r="2.72" fill="#cdd9ec"/>
<circle cx="422.36" cy="489.60" r="2.21" fill="#d6dce4"/>
<circle cx="435.70" cy="489.60" r="1.97" fill="#e0dbd8"/>
<circle cx="449.04" cy="489.60" r="2.79" fill="#ccd9ed"/>
<circle cx="475.72" cy="489.60" r="2.41" fill="#d3dbe7"/>
<circle cx="515.74" cy="489.60" r="3.44" fill="#b9d0f9"/>
</g>
<path stroke="#222" stroke-width="1.15" fill="none" stroke-linejoin="miter" d="M102.20 100.70V61.20H115.54V100.70M155.56 100.70V87.30H168.90V100.70M142.22 100.70V76.80H162.23V87.30M182.24 100.70V91.70H195.58V100.70M152.22 76.80V71.70H188.91V91.70M128.88 100.70V64.50H170.57V71.70M208.92 100.70V61.20H222.26V100.70M149.72 64.50V57.20H215.59V61.20M108.87 61.20V56.30H182.66V57.20M235.60 100.70V55.90H248.94V100.70M145.76 56.30V40.00H242.27V55.90M262.28 100.70V70.60H275.62V100.70M315.64 100.70V78.20H328.98V100.70M302.30 100.70V76.40H322.31V78.20M288.96 100.70V60.70H312.31V76.40M268.95 70.60V47.50H300.63V60.70M355.66 100.70V89.60H369.00V100.70M362.33 89.60V84.00H382.34V100.70M372.33 84.00V77.30H395.68V100.70M342.32 100.70V72.60H384.01V77.30M409.02 100.70V82.00H422.36V100.70M435.70 100.70V92.20H449.04V100.70M462.38 100.70V89.80H475.72V100.70M442.37 92.20V89.40H469.05V89.80M489.06 100.70V87.50H502.40V100.70M455.71 89.40V80.80H495.73V87.50M475.72 80.80V75.50H515.74V100.70M415.69 82.00V70.00H495.73V75.50M363.16 72.60V58.20H455.71V70.00M284.79 47.50V36.80H409.44V58.20M194.02 40.00V2.10M347.11 2.10V36.80"/>
<path stroke="#222" stroke-width="1.15" fill="none" stroke-linejoin="miter" d="M523.90 489.60H566.56V477.30H523.90M523.90 440.40H538.37V428.10H523.90M523.90 452.70H549.71V434.25H538.37M523.90 415.80H533.62V403.50H523.90M549.71 443.48H555.22V409.65H533.62M523.90 465.00H563.00V426.56H555.22M523.90 391.20H566.56V378.90H523.90M563.00 445.78H570.88V385.05H566.56M566.56 483.45H571.85V415.42H570.88M523.90 366.60H572.28V354.30H523.90M571.85 449.43H589.46V360.45H572.28M523.90 342.00H556.41V329.70H523.90M523.90 292.80H548.20V280.50H523.90M523.90 305.10H550.14V286.65H548.20M523.90 317.40H567.10V295.88H550.14M556.41 335.85H581.36V306.64H567.10M523.90 255.90H535.89V243.60H523.90M535.89 249.75H541.94V231.30H523.90M541.94 240.52H549.17V219.00H523.90M523.90 268.20H554.25V229.76H549.17M523.90 206.70H544.10V194.40H523.90M523.90 182.10H533.08V169.80H523.90M523.90 157.50H535.67V145.20H523.90M533.08 175.95H536.10V151.35H535.67M523.90 132.90H538.16V120.60H523.90M536.10 163.65H545.39V126.75H538.16M545.39 145.20H551.12V108.30H523.90M544.10 200.55H557.06V126.75H551.12M554.25 248.98H569.80V163.65H557.06M581.36 321.24H592.91V206.32H569.80M589.46 404.94H630.39M630.39 263.78H592.91"/>
<path stroke="#777" stroke-width="0.9" fill="none" d="M193.52 2.10H347.61M630.39 405.44V263.28"/>
<g font-size="6.1" text-anchor="end" lengthAdjust="spacingAndGlyphs">
<text x="91.1" y="110.80" textLength="84.98" lengthAdjust="spacingAndGlyphs">Unk. m/z 909.5580, rt 7.96</text>
<text x="91.1" y="123.10" textLength="84.98" lengthAdjust="spacingAndGlyphs">Unk. m/z 832.6107, rt 8.62</text>
<text x="91.1" y="135.40" textLength="84.98" lengthAdjust="spacingAndGlyphs">Unk. m/z 880.6077, rt 8.43</text>
<text x="91.1" y="147.70" textLength="53.18" lengthAdjust="spacingAndGlyphs">PC(33:1), rt 8.25</text>
<text x="91.1" y="160.00" textLength="53.18" lengthAdjust="spacingAndGlyphs">PC(33:1), rt 8.14</text>
<text x="91.1" y="172.30" textLength="84.98" lengthAdjust="spacingAndGlyphs">Unk. m/z 718.5651, rt 8.05</text>
<text x="91.1" y="184.60" textLength="84.98" lengthAdjust="spacingAndGlyphs">Unk. m/z 776.5638, rt 8.13</text>
<text x="91.1" y="196.90" textLength="84.98" lengthAdjust="spacingAndGlyphs">Unk. m/z 835.5348, rt 7.95</text>
<text x="91.1" y="209.20" textLength="41.70" lengthAdjust="spacingAndGlyphs">LysoPC(14:0)</text>
<text x="91.1" y="221.50" textLength="84.98" lengthAdjust="spacingAndGlyphs">Unk. m/z 549.5011, rt 8.67</text>
<text x="91.1" y="233.80" textLength="53.18" lengthAdjust="spacingAndGlyphs">PC(31:0), rt 8.17</text>
<text x="91.1" y="246.10" textLength="84.98" lengthAdjust="spacingAndGlyphs">Unk. m/z 790.5609, rt 8.20</text>
<text x="91.1" y="258.40" textLength="53.18" lengthAdjust="spacingAndGlyphs">PC(33:1), rt 8.24</text>
<text x="91.1" y="270.70" textLength="53.18" lengthAdjust="spacingAndGlyphs">PC(33:0), rt 8.39</text>
<text x="91.1" y="283.00" textLength="44.04" lengthAdjust="spacingAndGlyphs">C9:0-carnitine</text>
<text x="91.1" y="295.30" textLength="84.98" lengthAdjust="spacingAndGlyphs">Unk. m/z 328.2479, rt 6.39</text>
<text x="91.1" y="307.60" textLength="84.98" lengthAdjust="spacingAndGlyphs">Unk. m/z 155.0697, rt 6.28</text>
<text x="91.1" y="319.90" textLength="59.72" lengthAdjust="spacingAndGlyphs">1,5-anhydroglucitol</text>
<text x="91.1" y="332.20" textLength="84.98" lengthAdjust="spacingAndGlyphs">Unk. m/z 141.9586, rt 6.28</text>
<text x="91.1" y="344.50" textLength="84.98" lengthAdjust="spacingAndGlyphs">Unk. m/z 524.2630, rt 6.80</text>
<text x="91.1" y="356.80" textLength="84.98" lengthAdjust="spacingAndGlyphs">Unk. m/z 900.4515, rt 6.40</text>
<text x="91.1" y="369.10" textLength="84.98" lengthAdjust="spacingAndGlyphs">Unk. m/z 150.0005, rt 5.98</text>
<text x="91.1" y="381.40" textLength="44.04" lengthAdjust="spacingAndGlyphs">C8:1-carnitine</text>
<text x="91.1" y="393.70" textLength="59.62" lengthAdjust="spacingAndGlyphs">PC(P-38:4), rt 8.36</text>
<text x="91.1" y="406.00" textLength="84.98" lengthAdjust="spacingAndGlyphs">Unk. m/z 795.6168, rt 8.37</text>
<text x="91.1" y="418.30" textLength="59.62" lengthAdjust="spacingAndGlyphs">PC(P-38:4), rt 8.31</text>
<text x="91.1" y="430.60" textLength="88.85" lengthAdjust="spacingAndGlyphs">Unk. m/z 1202.4027, rt 8.42</text>
<text x="91.1" y="442.90" textLength="84.98" lengthAdjust="spacingAndGlyphs">Unk. m/z 807.6340, rt 8.61</text>
<text x="91.1" y="455.20" textLength="84.98" lengthAdjust="spacingAndGlyphs">Unk. m/z 634.5428, rt 8.59</text>
<text x="91.1" y="467.50" textLength="46.69" lengthAdjust="spacingAndGlyphs">Lithocholic acid</text>
<text x="91.1" y="479.80" textLength="84.98" lengthAdjust="spacingAndGlyphs">Unk. m/z 816.6086, rt 8.87</text>
<text x="91.1" y="492.10" textLength="49.39" lengthAdjust="spacingAndGlyphs">Indolelactic acid</text>
<text transform="translate(104.80 505.7) rotate(-45)" textLength="49.39" lengthAdjust="spacingAndGlyphs">Indolelactic acid</text>
<text transform="translate(118.14 505.7) rotate(-45)" textLength="84.98" lengthAdjust="spacingAndGlyphs">Unk. m/z 816.6086, rt 8.87</text>
<text transform="translate(131.48 505.7) rotate(-45)" textLength="46.69" lengthAdjust="spacingAndGlyphs">Lithocholic acid</text>
<text transform="translate(144.82 505.7) rotate(-45)" textLength="84.98" lengthAdjust="spacingAndGlyphs">Unk. m/z 634.5428, rt 8.59</text>
<text transform="translate(158.16 505.7) rotate(-45)" textLength="84.98" lengthAdjust="spacingAndGlyphs">Unk. m/z 807.6340, rt 8.61</text>
<text transform="translate(171.50 505.7) rotate(-45)" textLength="88.85" lengthAdjust="spacingAndGlyphs">Unk. m/z 1202.4027, rt 8.42</text>
<text transform="translate(184.84 505.7) rotate(-45)" textLength="59.62" lengthAdjust="spacingAndGlyphs">PC(P-38:4), rt 8.31</text>
<text transform="translate(198.18 505.7) rotate(-45)" textLength="84.98" lengthAdjust="spacingAndGlyphs">Unk. m/z 795.6168, rt 8.37</text>
<text transform="translate(211.52 505.7) rotate(-45)" textLength="59.62" lengthAdjust="spacingAndGlyphs">PC(P-38:4), rt 8.36</text>
<text transform="translate(224.86 505.7) rotate(-45)" textLength="44.04" lengthAdjust="spacingAndGlyphs">C8:1-carnitine</text>
<text transform="translate(238.20 505.7) rotate(-45)" textLength="84.98" lengthAdjust="spacingAndGlyphs">Unk. m/z 150.0005, rt 5.98</text>
<text transform="translate(251.54 505.7) rotate(-45)" textLength="84.98" lengthAdjust="spacingAndGlyphs">Unk. m/z 900.4515, rt 6.40</text>
<text transform="translate(264.88 505.7) rotate(-45)" textLength="84.98" lengthAdjust="spacingAndGlyphs">Unk. m/z 524.2630, rt 6.80</text>
<text transform="translate(278.22 505.7) rotate(-45)" textLength="84.98" lengthAdjust="spacingAndGlyphs">Unk. m/z 141.9586, rt 6.28</text>
<text transform="translate(291.56 505.7) rotate(-45)" textLength="59.72" lengthAdjust="spacingAndGlyphs">1,5-anhydroglucitol</text>
<text transform="translate(304.90 505.7) rotate(-45)" textLength="84.98" lengthAdjust="spacingAndGlyphs">Unk. m/z 155.0697, rt 6.28</text>
<text transform="translate(318.24 505.7) rotate(-45)" textLength="84.98" lengthAdjust="spacingAndGlyphs">Unk. m/z 328.2479, rt 6.39</text>
<text transform="translate(331.58 505.7) rotate(-45)" textLength="44.04" lengthAdjust="spacingAndGlyphs">C9:0-carnitine</text>
<text transform="translate(344.92 505.7) rotate(-45)" textLength="53.18" lengthAdjust="spacingAndGlyphs">PC(33:0), rt 8.39</text>
<text transform="translate(358.26 505.7) rotate(-45)" textLength="53.18" lengthAdjust="spacingAndGlyphs">PC(33:1), rt 8.24</text>
<text transform="translate(371.60 505.7) rotate(-45)" textLength="84.98" lengthAdjust="spacingAndGlyphs">Unk. m/z 790.5609, rt 8.20</text>
<text transform="translate(384.94 505.7) rotate(-45)" textLength="53.18" lengthAdjust="spacingAndGlyphs">PC(31:0), rt 8.17</text>
<text transform="translate(398.28 505.7) rotate(-45)" textLength="84.98" lengthAdjust="spacingAndGlyphs">Unk. m/z 549.5011, rt 8.67</text>
<text transform="translate(411.62 505.7) rotate(-45)" textLength="41.70" lengthAdjust="spacingAndGlyphs">LysoPC(14:0)</text>
<text transform="translate(424.96 505.7) rotate(-45)" textLength="84.98" lengthAdjust="spacingAndGlyphs">Unk. m/z 835.5348, rt 7.95</text>
<text transform="translate(438.30 505.7) rotate(-45)" textLength="84.98" lengthAdjust="spacingAndGlyphs">Unk. m/z 776.5638, rt 8.13</text>
<text transform="translate(451.64 505.7) rotate(-45)" textLength="84.98" lengthAdjust="spacingAndGlyphs">Unk. m/z 718.5651, rt 8.05</text>
<text transform="translate(464.98 505.7) rotate(-45)" textLength="53.18" lengthAdjust="spacingAndGlyphs">PC(33:1), rt 8.14</text>
<text transform="translate(478.32 505.7) rotate(-45)" textLength="53.18" lengthAdjust="spacingAndGlyphs">PC(33:1), rt 8.25</text>
<text transform="translate(491.66 505.7) rotate(-45)" textLength="84.98" lengthAdjust="spacingAndGlyphs">Unk. m/z 880.6077, rt 8.43</text>
<text transform="translate(505.00 505.7) rotate(-45)" textLength="84.98" lengthAdjust="spacingAndGlyphs">Unk. m/z 832.6107, rt 8.62</text>
<text transform="translate(518.34 505.7) rotate(-45)" textLength="84.98" lengthAdjust="spacingAndGlyphs">Unk. m/z 909.5580, rt 7.96</text>
</g>
<defs><linearGradient id="cb" x1="0" y1="0" x2="0" y2="1">
<stop offset="0.000" stop-color="#b40426"/>
<stop offset="0.025" stop-color="#bd1f2d"/>
<stop offset="0.050" stop-color="#c53334"/>
<stop offset="0.075" stop-color="#cf453c"/>
<stop offset="0.100" stop-color="#d65244"/>
<stop offset="0.125" stop-color="#dd5f4b"/>
<stop offset="0.150" stop-color="#e36c55"/>
<stop offset="0.175" stop-color="#e9785d"/>
<stop offset="0.200" stop-color="#ee8468"/>
<stop offset="0.225" stop-color="#f18f71"/>
<stop offset="0.250" stop-color="#f4987a"/>
<stop offset="0.275" stop-color="#f6a385"/>
<stop offset="0.300" stop-color="#f7ac8e"/>
<stop offset="0.325" stop-color="#f7b599"/>
<stop offset="0.350" stop-color="#f6bda2"/>
<stop offset="0.375" stop-color="#f5c4ac"/>
<stop offset="0.400" stop-color="#f2cbb7"/>
<stop offset="0.425" stop-color="#eed0c0"/>
<stop offset="0.450" stop-color="#e9d5cb"/>
<stop offset="0.475" stop-color="#e3d9d3"/>
<stop offset="0.500" stop-color="#dddcdc"/>
<stop offset="0.525" stop-color="#d6dce4"/>
<stop offset="0.550" stop-color="#cfdaea"/>
<stop offset="0.575" stop-color="#c7d7f0"/>
<stop offset="0.600" stop-color="#c0d4f5"/>
<stop offset="0.625" stop-color="#b9d0f9"/>
<stop offset="0.650" stop-color="#afcafc"/>
<stop offset="0.675" stop-color="#a7c5fe"/>
<stop offset="0.700" stop-color="#9ebeff"/>
<stop offset="0.725" stop-color="#96b7ff"/>
<stop offset="0.750" stop-color="#8db0fe"/>
<stop offset="0.775" stop-color="#84a7fc"/>
<stop offset="0.800" stop-color="#7b9ff9"/>
<stop offset="0.825" stop-color="#7295f4"/>
<stop offset="0.850" stop-color="#6a8bef"/>
<stop offset="0.875" stop-color="#6282ea"/>
<stop offset="0.900" stop-color="#5977e3"/>
<stop offset="0.925" stop-color="#516ddb"/>
<stop offset="0.950" stop-color="#4961d2"/>
<stop offset="0.975" stop-color="#4257c9"/>
<stop offset="1.000" stop-color="#3b4cc0"/>
</linearGradient></defs>
<rect x="646" y="142.3" width="11" height="226.4" fill="url(#cb)" stroke="#333" stroke-opacity="0.35" stroke-width="0.4"/>
<text x="646.6" y="136.2" font-size="6.6" textLength="36.6" lengthAdjust="spacingAndGlyphs">Correlation</text>
<path d="M657 142.60H658.3" stroke="#444" stroke-width="0.7"/>
<text x="659.2" y="144.30" font-size="5.2" textLength="8.39" lengthAdjust="spacingAndGlyphs">1.0</text>
<path d="M657 199.00H658.3" stroke="#444" stroke-width="0.7"/>
<text x="659.2" y="200.70" font-size="5.2" textLength="8.39" lengthAdjust="spacingAndGlyphs">0.5</text>
<path d="M657 255.40H658.3" stroke="#444" stroke-width="0.7"/>
<text x="659.2" y="257.10" font-size="5.2" textLength="8.39" lengthAdjust="spacingAndGlyphs">0.0</text>
<path d="M657 311.80H658.3" stroke="#444" stroke-width="0.7"/>
<text x="659.2" y="313.50" font-size="5.2" textLength="10.72" lengthAdjust="spacingAndGlyphs">-0.5</text>
<path d="M657 368.20H658.3" stroke="#444" stroke-width="0.7"/>
<text x="659.2" y="369.90" font-size="5.2" textLength="10.72" lengthAdjust="spacingAndGlyphs">-1.0</text>
</svg></body></html>
